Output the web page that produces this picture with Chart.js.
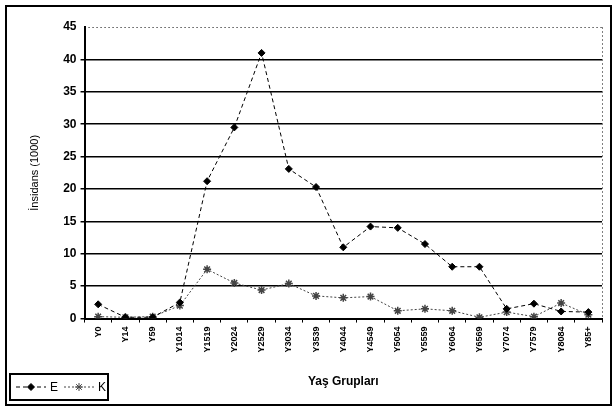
<!DOCTYPE html>
<html>
<head>
<meta charset="utf-8">
<script src="https://cdn.jsdelivr.net/npm/chart.js@4.4.0/dist/chart.umd.min.js"></script>
<style>
  html, body { margin: 0; padding: 0; background: #fff; }
  #wrap { width: 616px; height: 409px; }
</style>
</head>
<body>
<div id="wrap"><canvas id="incidence-chart" width="616" height="409"></canvas></div>
<script>
// ================= DỮ LIỆU =================
const ageGroups = ["Y0", "Y14", "Y59", "Y1014", "Y1519", "Y2024", "Y2529", "Y3034", "Y3539", "Y4044",
  "Y4549", "Y5054", "Y5559", "Y6064", "Y6569", "Y7074", "Y7579", "Y8084", "Y85+"];
const valuesE = [2.2, 0.2, 0.2, 2.5, 21.2, 29.5, 41, 23.1, 20.3, 11, 14.2, 14, 11.5, 8, 8, 1.5, 2.3, 1.1, 1];
const valuesK = [0.3, 0.2, 0.3, 2.0, 7.6, 5.5, 4.4, 5.4, 3.5, 3.2, 3.4, 1.2, 1.5, 1.2, 0.2, 1.0, 0.3, 2.4, 0.6];
const yTicks = [0, 5, 10, 15, 20, 25, 30, 35, 40, 45];

const FONT = "'Liberation Sans', Arial, sans-serif";

// khung ngoài, đường chấm trên cùng/bên phải, chú thích có viền
const framePlugin = {
  id: "frame",
  beforeDraw(chart) {
    const c = chart.ctx;
    c.save();
    c.fillStyle = "#fff";
    c.fillRect(0, 0, chart.width, chart.height);
    c.restore();
  },
  afterDraw(chart) {
    const c = chart.ctx;
    const area = chart.chartArea;
    const y = chart.scales.y;
    c.save();
    // outer frame
    c.strokeStyle = "#000";
    c.lineWidth = 2;
    c.strokeRect(6, 6, chart.width - 11, chart.height - 10);
    // dotted top & right
    c.lineWidth = 1;
    c.setLineDash([1, 3]);
    c.beginPath();
    const yTop = Math.round(y.getPixelForValue(45)) + 0.5;
    c.moveTo(area.left, yTop);
    c.lineTo(area.right, yTop);
    c.moveTo(area.right + 0.5, yTop);
    c.lineTo(area.right + 0.5, area.bottom);
    c.stroke();
    c.setLineDash([]);

    // legend
    const lx = 10, ly = 374, lw = 98, lh = 26;
    c.lineWidth = 2;
    c.strokeRect(lx, ly, lw, lh);
    const cy = ly + lh / 2;
    c.font = "12px " + FONT;
    c.textBaseline = "middle";
    let x = lx + 6;
    chart.data.datasets.forEach(ds => {
      c.strokeStyle = ds.borderColor;
      c.lineWidth = 1;
      c.setLineDash(ds.borderDash);
      c.beginPath();
      c.moveTo(x, cy);
      c.lineTo(x + 30, cy);
      c.stroke();
      c.setLineDash([]);
      c.fillStyle = ds.pointBackgroundColor || ds.borderColor;
      c.strokeStyle = ds.borderColor;
      Chart.helpers.drawPoint(c, {
        pointStyle: ds.pointStyle, radius: ds.pointRadius, borderWidth: ds.pointBorderWidth
      }, x + 15, cy);
      c.fillStyle = "#000";
      c.fillText(ds.label, x + 34, cy + 1);
      x += 48;
    });
    c.restore();
  }
};

Chart.defaults.font.family = FONT;

const incidenceCtx = document.getElementById("incidence-chart").getContext("2d");
new Chart(incidenceCtx, {
  type: "line",
  data: {
    labels: ageGroups,
    datasets: [{
      label: "E",
      data: valuesE,
      borderColor: "#000",
      backgroundColor: "#000",
      borderWidth: 1,
      borderDash: [4, 3],
      pointStyle: "rectRot",
      pointRadius: 3.5,
      pointBorderWidth: 1,
      pointBackgroundColor: "#000",
      tension: 0
    }, {
      label: "K",
      data: valuesK,
      borderColor: "#444",
      backgroundColor: "#444",
      borderWidth: 1,
      borderDash: [2, 2],
      pointStyle: "star",
      pointRadius: 4,
      pointBorderWidth: 1.5,
      tension: 0
    }]
  },
  options: {
    responsive: false,
    animation: false,
    layout: { padding: { left: 28, right: 14, top: 27, bottom: 20 } },
    plugins: {
      legend: { display: false },
      tooltip: { enabled: false }
    },
    scales: {
      x: {
        offset: true,
        grid: {
          display: true, drawOnChartArea: false, drawTicks: true,
          tickLength: 4, color: "#000", lineWidth: 1, offset: true
        },
        border: { display: true, color: "#000", width: 2 },
        ticks: {
          color: "#000", font: { size: 9, weight: "bold" },
          minRotation: 90, maxRotation: 90, padding: 4, autoSkip: false
        },
        title: {
          display: true, text: "Yaş Grupları", color: "#000",
          font: { size: 12, weight: "bold" }, padding: { top: 18, bottom: 0 }
        }
      },
      y: {
        min: 0,
        max: 45,
        afterBuildTicks: s => { s.ticks = yTicks.map(v => ({ value: v })); },
        grid: {
          color: ctx => (ctx.tick && ctx.tick.value === 45) ? "rgba(0,0,0,0)" : "#000",
          lineWidth: 1.5,
          drawTicks: true,
          tickLength: 4
        },
        border: { display: true, color: "#000", width: 2 },
        ticks: {
          color: "#000", font: { size: 12, weight: "bold" }, padding: 4
        },
        title: {
          display: true, text: "İnsidans (1000)", color: "#000",
          font: { size: 11 }, padding: { top: 0, bottom: 18 }
        }
      }
    }
  },
  plugins: [framePlugin]
});
</script>
</body>
</html>
